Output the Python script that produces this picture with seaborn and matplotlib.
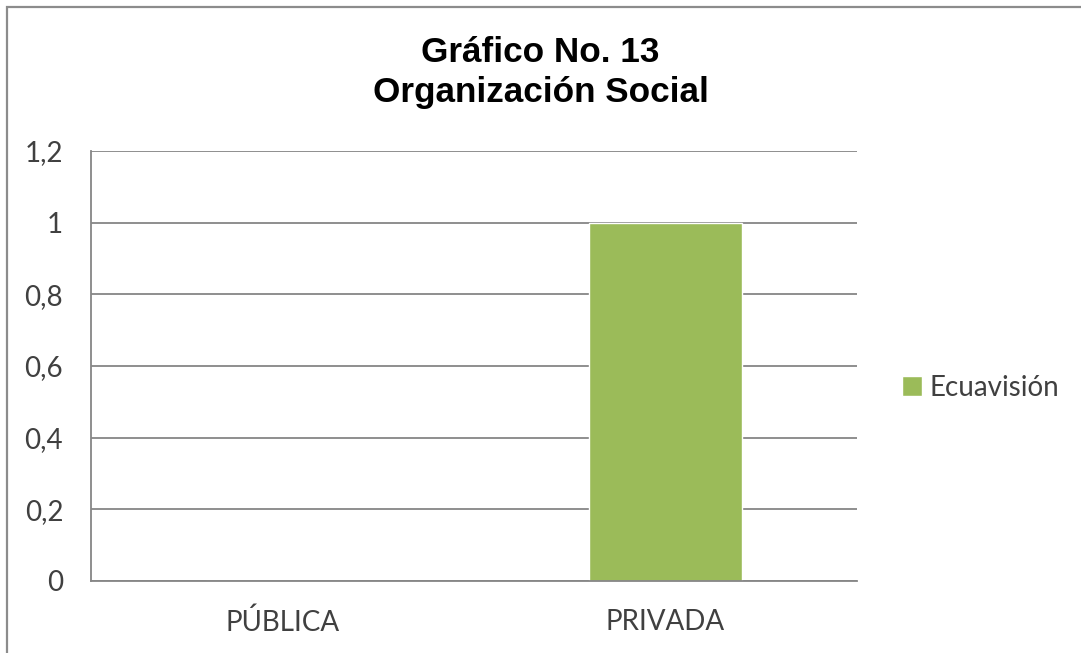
import matplotlib
matplotlib.use("Agg")
import matplotlib.pyplot as plt
from matplotlib.patches import Rectangle
from matplotlib.ticker import FixedLocator, FuncFormatter
import seaborn as sns
import pandas as pd

# Data
categories = ["PÚBLICA", "PRIVADA"]
series_name = "Ecuavisión"
values = [0, 1]
y_ticks = [0, 0.2, 0.4, 0.6, 0.8, 1.0, 1.2]

df = pd.DataFrame({"categoria": categories, "valor": values, "serie": [series_name] * len(categories)})

sns.set_theme(style="white")
plt.rcParams["font.family"] = ["Lato", "DejaVu Sans"]

BAR = "#9BBB59"
GRID = "#868686"
TXT = "#404040"

fig = plt.figure(figsize=(10.81, 6.53), dpi=100)
ax = fig.add_axes([0.0842, 0.1103, 0.7086, 0.6585])

sns.barplot(data=df, x="categoria", y="valor", hue="serie", palette=[BAR],
            width=0.4, dodge=False, saturation=1, ax=ax, legend=True)

ax.set_xlim(-0.5, 1.5)
ax.set_ylim(0, 1.2)
ax.yaxis.set_major_locator(FixedLocator(y_ticks))
ax.yaxis.set_major_formatter(FuncFormatter(lambda v, p: f"{v:g}".replace(".", ",")))
ax.grid(axis="y", color=GRID, linewidth=1.3)
ax.set_axisbelow(True)
for side in ["top", "right"]:
    ax.spines[side].set_visible(False)
for side in ["left", "bottom"]:
    ax.spines[side].set_color(GRID)
    ax.spines[side].set_linewidth(1.3)
ax.tick_params(axis="both", length=0, labelsize=20, labelcolor=TXT)
ax.tick_params(axis="y", pad=20)
ax.tick_params(axis="x", pad=20)
ax.set_xlabel("")
ax.set_ylabel("")

handles, labels = ax.get_legend_handles_labels()
ax.legend(handles, labels, loc="center left", bbox_to_anchor=(0.834, 0.406),
          bbox_transform=fig.transFigure, frameon=False, fontsize=20,
          handlelength=0.75, handleheight=0.75, handletextpad=0.25,
          labelcolor=TXT, borderpad=0, borderaxespad=0)

fig.text(0.5, 0.889, "Gráfico No. 13\nOrganización Social", ha="center", va="center",
         fontsize=25.3, fontweight="bold", family=["Liberation Sans", "DejaVu Sans"],
         color="#000000", linespacing=1.3)

# Outer frame
fig.patches.append(Rectangle((7 / 1081, -0.1), 1.2, 1.1 - 7 / 653,
                             transform=fig.transFigure, fill=False,
                             edgecolor="#8c8c8c", linewidth=1.6))

fig.savefig("out.png", dpi=100, facecolor="white")
